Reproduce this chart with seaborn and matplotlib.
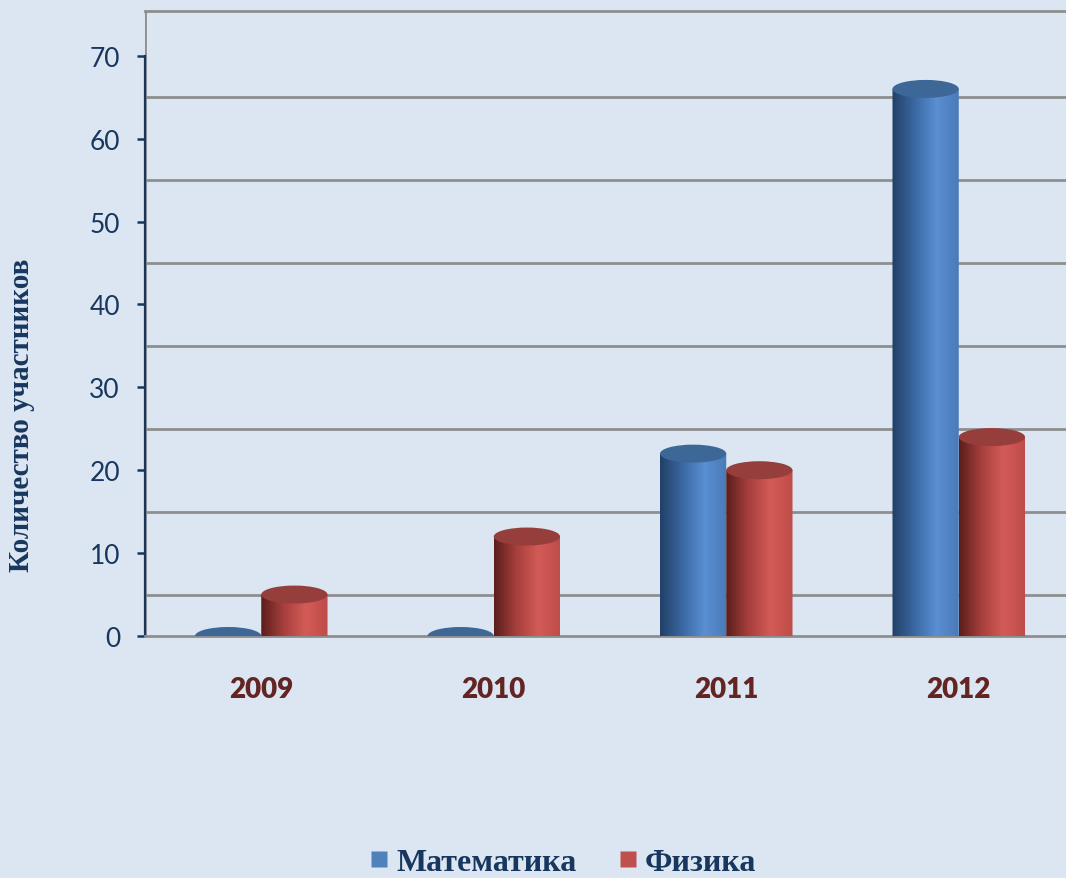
import numpy as np
import pandas as pd
import matplotlib
matplotlib.use('Agg')
import matplotlib.pyplot as plt
import seaborn as sns
from matplotlib.path import Path
from matplotlib.patches import Ellipse
from matplotlib.colors import LinearSegmentedColormap
from matplotlib.lines import Line2D

years = ['2009', '2010', '2011', '2012']
math_counts = [0, 0, 22, 66]
phys_counts = [5, 12, 20, 24]
subjects = ['Математика', 'Физика']

df = pd.DataFrame({
    'year': years * 2,
    'count': math_counts + phys_counts,
    'subject': [subjects[0]] * 4 + [subjects[1]] * 4,
})

bg = '#dce6f2'
navy = '#17375e'
grid_gray = '#8e8e8e'
base_colors = ['#4f81bd', '#c0504d']
cap_colors = ['#3c6797', '#953e3b']
body_maps = [
    LinearSegmentedColormap.from_list('blue_cyl', ['#223f66', '#3a68a2', '#5a8fd2', '#4a7ab8']),
    LinearSegmentedColormap.from_list('red_cyl', ['#5a1e1c', '#a63f3c', '#d35b57', '#bd4c48']),
]

sns.set_style('white')
plt.rcParams['font.family'] = ['Lato', 'DejaVu Sans']

fig = plt.figure(figsize=(10.66, 8.79), dpi=100, facecolor=bg)
ax = fig.add_axes([145 / 1066, 242 / 879, 930 / 1066, 625 / 879])
ax.set_facecolor(bg)

sns.barplot(data=df, x='year', y='count', hue='subject', palette=base_colors,
            width=0.57, dodge=True, legend=False, ax=ax, zorder=3)

xlim = (-0.5, 3.5)
ylim = (0, 75.4)
ax.set_xlim(*xlim)
ax.set_ylim(*ylim)

# высота эллипса крышки в единицах данных (~18 px)
px_per_unit = ax.get_position().height * fig.get_figheight() * fig.dpi / (ylim[1] - ylim[0])
eh = 18 / px_per_unit

grad = np.linspace(0, 1, 256).reshape(1, -1)
n = len(years)
for i, p in enumerate(ax.patches[:2 * n]):
    k = i // n
    x0 = p.get_x()
    w = p.get_width()
    h = p.get_height()
    cx = x0 + w / 2
    p.set_visible(False)
    if h <= 0:
        ax.add_patch(Ellipse((cx, h), w, eh, facecolor=cap_colors[k], edgecolor='none', zorder=4))
        continue
    t = np.linspace(np.pi, 2 * np.pi, 60)
    verts = [(x0, h), (x0, 0)]
    verts += list(zip(cx + w / 2 * np.cos(t), eh / 2 * np.sin(t)))
    verts += [(x0 + w, h), (x0, h)]
    codes = [Path.MOVETO] + [Path.LINETO] * (len(verts) - 2) + [Path.CLOSEPOLY]
    body = Path(verts, codes)
    im = ax.imshow(grad, cmap=body_maps[k], aspect='auto', zorder=3 + 0.1 * i,
                   extent=[x0, x0 + w, -eh / 2, h], interpolation='bilinear')
    im.set_clip_path(body, ax.transData)
    ax.add_patch(Ellipse((cx, h), w, eh, facecolor=cap_colors[k], edgecolor='none',
                         zorder=3.05 + 0.1 * i))

ax.set_xlim(*xlim)
ax.set_ylim(*ylim)

# сетка задней стенки
ax.set_yticks(range(0, 80, 10))
ax.set_yticks(np.arange(5, 70, 10), minor=True)
ax.grid(False)
ax.grid(True, which='minor', axis='y', color=grid_gray, linewidth=2, zorder=0)
ax.tick_params(axis='y', which='minor', length=0)
ax.axvline(xlim[0], color=grid_gray, linewidth=2, zorder=1)

ax.spines['right'].set_visible(False)
for s in ['top', 'bottom']:
    ax.spines[s].set_color(grid_gray)
    ax.spines[s].set_linewidth(2)
ax.spines['left'].set_color(navy)
ax.spines['left'].set_linewidth(1.6)
ax.spines['left'].set_bounds(0, 70)

ax.tick_params(axis='y', which='major', left=True, direction='out', length=6, width=1.8,
               color=navy, labelcolor=navy, labelsize=19, pad=12)
ax.tick_params(axis='x', bottom=False, length=0, pad=29)
for lab in ax.get_xticklabels():
    lab.set_fontsize(20)
    lab.set_fontweight('heavy')
    lab.set_color('#632523')

ax.set_xlabel('')
ax.set_ylabel('')
fig.text(22 / 1066, 0.527, 'Количество участников', rotation=90, ha='center', va='center',
         family=['Liberation Serif', 'DejaVu Serif'], fontweight='bold', fontsize=21, color=navy)

handles = [Line2D([], [], marker='s', linestyle='none', markersize=11,
                  markerfacecolor=c, markeredgecolor='none') for c in base_colors]
leg = fig.legend(handles, subjects, loc='center', bbox_to_anchor=(0.528, 0.018), ncol=2,
                 frameon=False, handlelength=0.6, handletextpad=0.25, columnspacing=1.3,
                 prop={'family': ['Liberation Serif', 'DejaVu Serif'], 'weight': 'bold', 'size': 23})
for txt in leg.get_texts():
    txt.set_color(navy)

fig.savefig('out.png', dpi=100, facecolor=bg)
